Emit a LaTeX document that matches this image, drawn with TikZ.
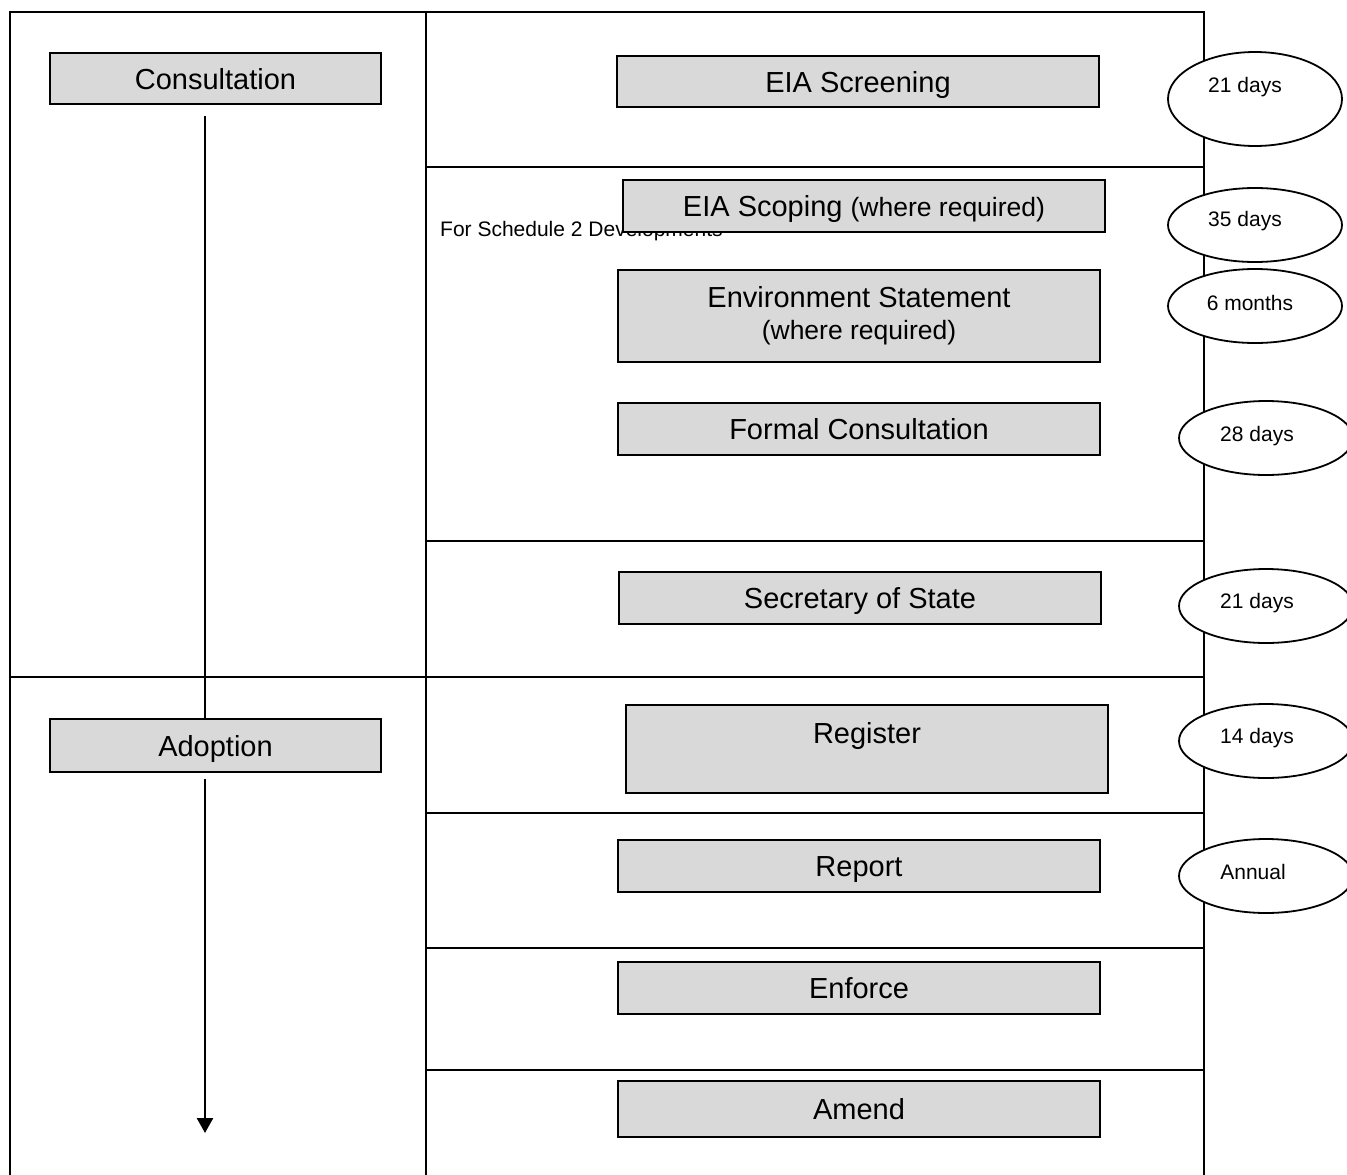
\documentclass[tikz,border=0pt]{standalone}
\usepackage{fontspec}
\setmainfont{Liberation Sans}
\usetikzlibrary{shapes.geometric,arrows.meta}
\definecolor{boxgray}{HTML}{D9D9D9}
\begin{document}
\begin{tikzpicture}[x=1pt,y=-1pt,
  frame/.style={draw=black,line width=1.3pt},
  box/.style={draw=black,line width=1.8pt,fill=boxgray,inner sep=0pt,align=center,
    font=\fontsize{29}{32}\selectfont},
  onel/.style={text height=24pt,text depth=3pt},
  oval/.style={ellipse,draw=black,line width=1.8pt,fill=white,inner sep=0pt,
    minimum width=174pt,minimum height=74pt},
  ovaltext/.style={font=\fontsize{21}{24}\selectfont,inner sep=0pt},
  flow/.style={draw=black,line width=2.5pt}]
\clip (0,0) rectangle (1347,1175);
\fill[white] (0,0) rectangle (1347,1175);
% frame
\draw[frame] (10,1200) -- (10,12) -- (1204,12) -- (1204,1200);
\draw[frame] (426,12) -- (426,1200);
\draw[frame] (426,167) -- (1204,167);
\draw[frame] (426,541) -- (1204,541);
\draw[frame] (10,677) -- (1204,677);
\draw[frame] (426,813) -- (1204,813);
\draw[frame] (426,948) -- (1204,948);
\draw[frame] (426,1070) -- (1204,1070);
% note text (under the scoping box)
\node[anchor=west,inner sep=0pt,font=\fontsize{21}{24}\selectfont] (note) at (440,231) {For Schedule 2 Developments};
% left boxes
\node[box,onel,minimum width=331pt,minimum height=51pt] (consult) at (215.5,78.5) {Consultation};
\node[box,onel,minimum width=331pt,minimum height=53pt] (adopt) at (215.5,745.5) {Adoption};
\coordinate (endc) at (205,1133);
\draw[flow,shorten <=11pt] (consult.south -| endc) -- (adopt.north -| endc);
\draw[flow,shorten <=6pt,-{Triangle[width=16pt,length=15pt]}] (adopt.south -| endc) -- (endc);
% right boxes
\node[box,onel,minimum width=482pt,minimum height=51pt] (screen) at (858,81.5) {EIA Screening};
\node[box,onel,minimum width=482pt,minimum height=52pt] (scope) at (864,206) {EIA Scoping {\fontsize{26.5}{28}\selectfont(where required)}};
\node[box,minimum width=482pt,minimum height=92pt] (env) at (859,316) {Environment Statement\\{\fontsize{26.5}{28}\selectfont(where required)}};
\node[box,onel,minimum width=482pt,minimum height=52pt] (formal) at (859,429) {Formal Consultation};
\node[box,onel,minimum width=482pt,minimum height=52pt] (sos) at (860,598) {Secretary of State};
\node[box,text height=20pt,text depth=32pt,minimum width=482pt,minimum height=88pt] (register) at (867,749) {Register};
\node[box,onel,minimum width=482pt,minimum height=52pt] (report) at (859,866) {Report};
\node[box,onel,minimum width=482pt,minimum height=52pt] (enforce) at (859,988) {Enforce};
\node[box,onel,minimum width=482pt,minimum height=56pt] (amend) at (859,1109) {Amend};
% ovals
\node[oval,minimum height=94pt] (o1) at (1255,99) {};
\node[ovaltext] (t1) at (1245,87) {21 days};
\node[oval] (o2) at (1255,225) {};
\node[ovaltext] (t2) at (1245,221) {35 days};
\node[oval] (o3) at (1255,306) {};
\node[ovaltext] (t3) at (1250,303) {6 months};
\node[oval] (o4) at (1266,438) {};
\node[ovaltext] (t4) at (1257,436) {28 days};
\node[oval] (o5) at (1266,606) {};
\node[ovaltext] (t5) at (1257,603) {21 days};
\node[oval] (o6) at (1266,741) {};
\node[ovaltext] (t6) at (1257,738) {14 days};
\node[oval] (o7) at (1266,876) {};
\node[ovaltext] (t7) at (1253,872) {Annual};
\end{tikzpicture}
\end{document}
